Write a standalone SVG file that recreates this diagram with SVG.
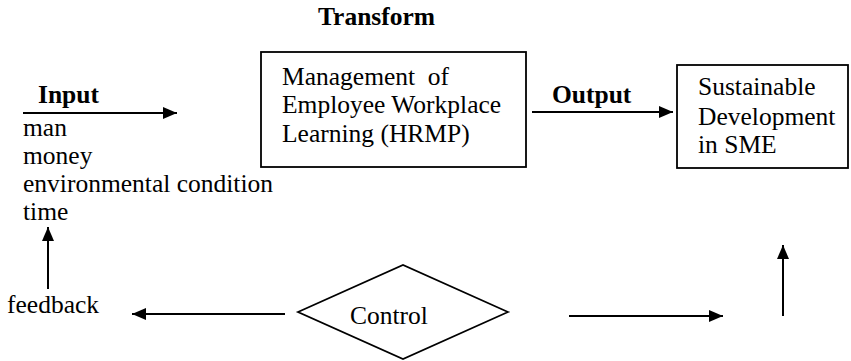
<svg xmlns="http://www.w3.org/2000/svg" width="851" height="361" viewBox="0 0 851 361">
<defs>
<style>
text{font-family:"Liberation Serif","Times New Roman",Times,"DejaVu Serif",serif;font-size:25.5px;font-weight:normal;fill:#000}
text.b{font-weight:bold}
.box{fill:#fff;stroke:#000;stroke-width:1.8}
.ln{stroke:#000;stroke-width:2;fill:none}
</style>
<marker id="ah" viewBox="0 0 14 12" refX="14" refY="6" markerWidth="14" markerHeight="12" markerUnits="userSpaceOnUse" orient="auto">
<path d="M0,0L14,6L0,12z" fill="#000"/>
</marker>
</defs>
<rect width="851" height="361" fill="#fff"/>
<g id="labels">
<text class="b" x="318" y="25">Transform</text>
<text class="b" x="38" y="103">Input</text>
<text class="b" x="552" y="103">Output</text>
</g>
<g id="inputs">
<text x="23" y="136">man</text>
<text x="23" y="164">money</text>
<text x="23" y="192">environmental condition</text>
<text x="23" y="220">time</text>
</g>
<g id="feedback">
<text x="7" y="313">feedback</text>
</g>
<g id="transform">
<rect class="box" x="261" y="52" width="265" height="115"/>
<text x="282" y="85" xml:space="preserve">Management  of</text>
<text x="282" y="113">Employee Workplace</text>
<text x="282" y="142">Learning (HRMP)</text>
</g>
<g id="output">
<rect class="box" x="677" y="65" width="171" height="103"/>
<text x="698" y="95">Sustainable</text>
<text x="698" y="125">Development</text>
<text x="698" y="153">in SME</text>
</g>
<g id="control">
<polygon class="box" points="298,312 403,265 508,312 403,359"/>
<text x="350" y="324">Control</text>
</g>
<g id="connectors">
<line class="ln" x1="23" y1="113" x2="177" y2="113" marker-end="url(#ah)"/>
<line class="ln" x1="532" y1="112" x2="673" y2="112" marker-end="url(#ah)"/>
<line class="ln" x1="285" y1="314" x2="132" y2="314" marker-end="url(#ah)"/>
<line class="ln" x1="569" y1="316" x2="723" y2="316" marker-end="url(#ah)"/>
<line class="ln" x1="48" y1="289" x2="48" y2="227" marker-end="url(#ah)"/>
<line class="ln" x1="783" y1="316" x2="783" y2="245" marker-end="url(#ah)"/>
</g>
</svg>
